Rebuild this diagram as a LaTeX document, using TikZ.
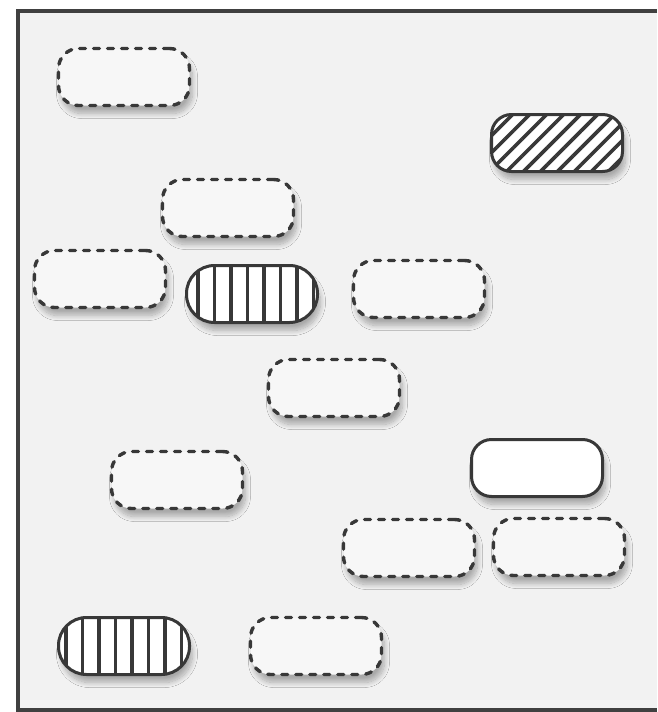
\documentclass[tikz,border=0pt]{standalone}
\usepackage{tikz}
\usetikzlibrary{shapes,positioning,shadows.blur,patterns.meta}

\begin{document}
\begin{tikzpicture}[
    x=1pt, y=-1pt,
    pill/.style={rectangle, draw=black!78, line width=3pt, fill=white!97!black, minimum width=131pt, minimum height=57pt, rounded corners=20pt, blur shadow={shadow xshift=3pt, shadow yshift=-8pt, shadow blur radius=5pt, shadow blur steps=12, shadow opacity=30}},
    dashedpill/.style={pill, line width=3.4pt, dash pattern=on 6pt off 8pt, line cap=round},
    solidpill/.style={pill, fill=white},
    stripepill/.style={pill, fill=white, rounded corners=28pt, postaction={pattern={Lines[angle=90, distance=16.5pt, line width=3.6pt]}, pattern color=black!78}},
    slantpill/.style={pill, fill=white, postaction={pattern={Lines[angle=45, distance=12pt, line width=3.6pt]}, pattern color=black!78}}
]

\useasboundingbox (0,0) rectangle (657,712);

% Frame
\fill[black!5] (18,11) rectangle (657,710);
\draw[black!75, line width=3.5pt] (657,11) -- (18,11) -- (18,710) -- (657,710);

% Dashed pills
\node[dashedpill] (d1) at (124,77) {};
\node[dashedpill] (d2) at (228,208) {};
\node[dashedpill] (d3) at (100,279) {};
\node[dashedpill] (d4) at (419,289) {};
\node[dashedpill] (d5) at (334,388) {};
\node[dashedpill] (d6) at (177,480) {};
\node[dashedpill] (d7) at (409,548) {};
\node[dashedpill] (d8) at (559,547) {};
\node[dashedpill] (d9) at (316,646) {};

% Filled pills
\node[slantpill] (s1) at (557,143) {};
\node[stripepill] (v1) at (252,294) {};
\node[stripepill] (v2) at (124,646) {};
\node[solidpill] (w1) at (537,468) {};

\end{tikzpicture}
\end{document}
